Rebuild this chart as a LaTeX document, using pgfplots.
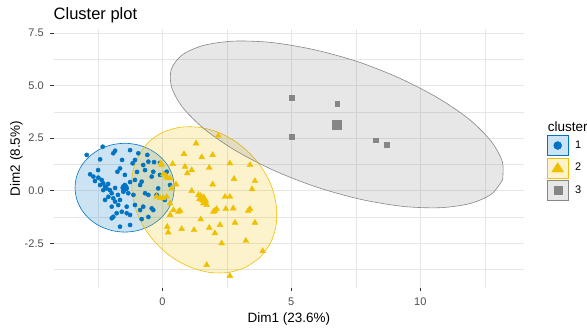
\documentclass[border=0pt]{standalone}
\usepackage{pgfplots}
\pgfplotsset{compat=1.18}
\usepackage{fontspec}
\setmainfont{Liberation Sans}
\definecolor{c1}{HTML}{0073C2}
\definecolor{c2}{HTML}{EFC000}
\definecolor{c3}{HTML}{868686}
\definecolor{gridc}{HTML}{E6E6E6}
\definecolor{tickc}{HTML}{4D4D4D}
\definecolor{tickm}{HTML}{333333}
\begin{document}
\begin{tikzpicture}
\useasboundingbox (0,0) rectangle (587pt,330pt);
\begin{axis}[
  at={(53.7pt,42.3pt)}, anchor=south west,
  scale only axis, width=470.3pt, height=258.4pt,
  xmin=-4.21, xmax=14.02, ymin=-4.61, ymax=7.67,
  axis line style={draw=none},
  xtick={0,5,10}, xticklabels={0,5,10},
  ytick={-2.5,0,2.5,5,7.5}, yticklabels={-2.5,0.0,2.5,5.0,7.5},
  minor xtick={-2.5,2.5,7.5,12.5},
  minor ytick={-3.75,-1.25,1.25,3.75,6.25},
  grid=both,
  major grid style={gridc, line width=0.6pt},
  minor grid style={gridc, line width=0.35pt},
  tick align=outside, xtick pos=bottom, ytick pos=left,
  major tick length=3.4pt, minor tick length=0pt,
  tick style={tickm, line width=0.6pt},
  tick label style={font=\fontsize{11}{13}\selectfont, text=tickc},
  yticklabel style={anchor=east, inner sep=0pt, xshift=-6.4pt},
  xticklabel style={anchor=north, inner sep=0pt, yshift=-6.8pt},
  xlabel={Dim1 (23.6\%)}, ylabel={Dim2 (8.5\%)},
  every axis x label/.style={at={(axis description cs:0.5,-0.1358)}, anchor=base, font=\fontsize{13.5}{16}\selectfont},
  every axis y label/.style={at={(axis description cs:-0.0717,0.5)}, rotate=90, anchor=base, font=\fontsize{13.5}{16}\selectfont},
  legend style={at={(axis description cs:1.0483,0.5909)}, anchor=north west, draw=none, fill=none, inner sep=0pt, row sep=1.7pt, font=\fontsize{11}{13}\selectfont, nodes={inner sep=0pt}, /tikz/every odd column/.append style={column sep=6.5pt}},
  legend cell align=left,
]
% cluster 1 points
\addplot[only marks, mark=*, mark size=2.1pt, color=c1, forget plot] coordinates {
(-2.31,2.09) (-1.83,1.90) (-1.90,1.78) (-1.25,1.93) (-2.93,1.70) (-2.41,1.49) (-0.58,1.70) (-0.93,1.78)
(-1.15,1.30) (-0.74,1.22) (-0.54,1.38) (-1.06,1.46) (-0.32,1.36) (-0.09,1.32) (-1.64,1.06) (-1.74,0.90)
(-0.67,0.98) (-0.35,0.90) (-0.41,0.67) (0.17,0.90) (-0.09,0.75) (-2.80,0.78) (-2.67,0.67) (-2.48,0.62)
(-2.35,0.51) (-2.29,0.35) (-2.41,0.27) (-2.22,0.19) (-2.16,0.11) (-2.29,0.03) (-2.03,0.03) (-1.96,-0.12)
(-2.09,-0.29) (-2.22,-0.44) (-1.90,-0.36) (-1.83,-0.52) (-1.64,-0.44) (-1.71,-0.68) (-1.96,-0.76) (-1.57,-1.00)
(-1.77,-1.07) (-1.38,0.11) (-1.32,-0.12) (-1.51,-0.05) (-2.61,0.46) (-2.10,0.32) (-1.83,0.13) (-1.72,-0.20)
(-1.45,0.27) (-1.25,0.41) (-1.06,0.51) (-0.80,0.43) (-0.86,0.27) (-0.16,0.11) (-1.12,-0.20) (-0.67,-0.12)
(-0.54,-0.20) (-1.06,-0.68) (-0.74,-0.76) (-0.41,-0.84) (0.10,-0.44) (-0.22,-0.20) (0.04,-0.36) (0.30,0.27)
(-1.38,-0.76) (-0.86,-0.92) (-0.35,-0.92) (-1.25,-1.15) (-0.54,-1.25) (-0.80,-1.35) (-1.90,-1.24) (-1.64,-1.71)
(-1.25,-1.63) (-1.38,-1.07) (-1.96,-1.31) (-2.49,0.98) (-1.56,1.46) (-1.45,0.75) (-0.98,0.89)
};
\addplot[only marks, mark=*, mark size=4pt, color=c1, forget plot] coordinates {(-1.46,0.14)};
% cluster 2 points
\addplot[only marks, mark=triangle*, mark size=3.4pt, color=c2, forget plot] coordinates {
(2.17,2.61) (1.31,2.25) (0.84,1.74) (1.53,1.59) (1.95,1.70) (0.40,1.27) (0.88,1.14) (1.82,1.09)
(2.62,1.30) (3.40,1.22) (0.97,0.83) (2.78,0.56) (3.59,0.46) (-0.06,1.30) (0.53,0.30) (1.95,0.30)
(3.48,0.07) (1.14,-0.01) (1.40,-0.20) (1.49,-0.25) (1.59,-0.31) (1.44,-0.39) (1.53,-0.44) (1.59,-0.60)
(1.66,-0.52) (1.72,-0.68) (2.43,-0.29) (2.62,-0.29) (2.11,-0.87) (2.04,-0.95) (1.98,-1.00) (2.46,-0.87)
(2.75,-0.84) (3.40,-0.87) (3.33,-0.95) (1.49,-1.36) (0.75,-1.82) (1.23,-1.87) (1.82,-1.76) (2.24,-1.63)
(2.04,-2.02) (2.82,-1.52) (3.59,-1.52) (2.30,-2.50) (3.24,-2.38) (3.89,-2.87) (1.72,-3.53) (2.62,-4.05)
(0.04,0.78) (0.14,0.71) (0.19,0.62) (0.30,0.59) (-0.02,1.22) (0.36,0.11) (-0.22,-0.29) (-0.09,-0.33)
(0.04,-0.36) (0.17,-0.29) (0.30,-0.60) (0.43,-0.92) (0.62,-1.00) (0.19,-1.71) (0.23,-1.98) (0.69,-0.95)
(0.30,-1.15) (1.14,0.98)
};
\addplot[only marks, mark=triangle*, mark size=5pt, color=c2, forget plot] coordinates {(1.63,-0.43)};
% cluster 3 points
\addplot[only marks, mark=square*, mark size=2.4pt, color=c3, forget plot] coordinates {
(5.02,4.42) (6.78,4.15) (5.03,2.55) (8.28,2.40) (8.71,2.18)
};
\addplot[only marks, mark=square*, mark size=4.5pt, color=c3, forget plot] coordinates {(6.77,3.14)};
% ellipses
\addplot[smooth, draw=c1, line width=0.6pt, fill=c1, fill opacity=0.2, forget plot] coordinates {
(0.469,0.143) (0.403,0.689) (0.211,1.198) (-0.095,1.635) (-0.494,1.970) (-0.959,2.181) (-1.457,2.253)
(-1.955,2.181) (-2.420,1.970) (-2.819,1.635) (-3.125,1.198) (-3.317,0.689) (-3.383,0.143) (-3.317,-0.403)
(-3.125,-0.912) (-2.819,-1.349) (-2.420,-1.684) (-1.955,-1.895) (-1.457,-1.967) (-0.959,-1.895) (-0.494,-1.684)
(-0.095,-1.349) (0.211,-0.912) (0.403,-0.403) (0.469,0.143)
} -- cycle;
\addplot[smooth, draw=c2, line width=0.6pt, fill=c2, fill opacity=0.2, forget plot] coordinates {
(3.79,-3.17) (3.24,-3.63) (2.59,-3.88) (1.87,-3.89) (1.14,-3.66) (0.44,-3.22) (-0.18,-2.58) (-0.68,-1.80)
(-1.02,-0.92) (-1.18,-0.01) (-1.15,0.87) (-0.92,1.66) (-0.53,2.31) (0.01,2.77) (0.67,3.01) (1.38,3.02)
(2.12,2.80) (2.82,2.35) (3.44,1.71) (3.94,0.93) (4.28,0.06) (4.43,-0.85) (4.40,-1.73) (4.18,-2.52) (3.79,-3.17)
} -- cycle;
\addplot[smooth, draw=c3, line width=0.6pt, fill=c3, fill opacity=0.2, forget plot] coordinates {
(13.19,0.52) (12.76,-0.16) (11.93,-0.61) (10.74,-0.81) (9.28,-0.74) (7.65,-0.40) (5.96,0.18) (4.33,0.96)
(2.86,1.89) (1.66,2.90) (0.80,3.94) (0.36,4.92) (0.35,5.78) (0.78,6.46) (1.61,6.91) (2.80,7.11)
(4.26,7.04) (5.89,6.70) (7.58,6.13) (9.21,5.34) (10.68,4.41) (11.89,3.40) (12.74,2.36) (13.18,1.38) (13.19,0.52)
} -- cycle;
% legend
\addlegendimage{legend image code/.code={
  \draw[c1, line width=0.6pt, fill=c1, fill opacity=0.2] (0pt,-10pt) rectangle (21pt,10pt);
  \fill[c1] (10.5pt,0pt) circle (4pt);}}
\addlegendentry{1}
\addlegendimage{legend image code/.code={
  \draw[c2, line width=0.6pt, fill=c2, fill opacity=0.2] (0pt,-10pt) rectangle (21pt,10pt);
  \fill[c2] (10.5pt,5.2pt) -- (4.5pt,-4.2pt) -- (16.5pt,-4.2pt) -- cycle;}}
\addlegendentry{2}
\addlegendimage{legend image code/.code={
  \draw[c3, line width=0.6pt, fill=c3, fill opacity=0.2] (0pt,-10pt) rectangle (21pt,10pt);
  \fill[c3] (6.5pt,-4pt) rectangle (14.5pt,4pt);}}
\addlegendentry{3}
\end{axis}
\node[anchor=base west, inner sep=0pt, font=\fontsize{16.5}{19}\selectfont] at (53.5pt,310.5pt) {Cluster plot};
\node[anchor=base west, inner sep=0pt, font=\fontsize{13.5}{16}\selectfont] at (547.7pt,198.3pt) {cluster};
\end{tikzpicture}
\end{document}
